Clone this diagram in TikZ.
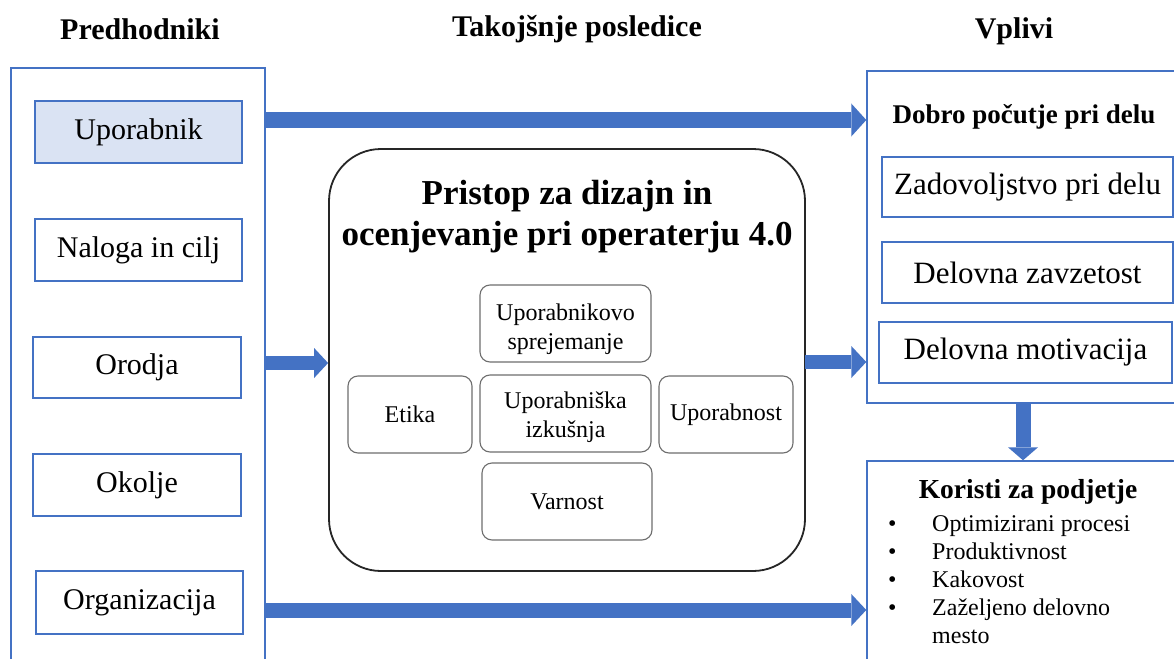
\documentclass[tikz,border=0pt]{standalone}
\usepackage{fontspec}
\setmainfont{Liberation Serif}
\usetikzlibrary{arrows.meta}
\definecolor{frameblue}{HTML}{4472C4}
\definecolor{paleblue}{HTML}{DAE3F3}
\definecolor{softgray}{HTML}{6E6E6E}
\newcommand{\fs}[1]{\fontsize{#1}{#1}\selectfont}
% two centred lines, set a little lower than the box centre
\newcommand{\twolines}[3]{\raisebox{-#1}[\height][\depth]{\begin{tabular}{@{}c@{}}#2\\#3\end{tabular}}}
\tikzset{
  x=1pt, y=-1pt,
  panel/.style={draw=frameblue, line width=1.4pt, inner sep=0pt},
  itembox/.style={draw=frameblue, line width=1.4pt, inner sep=0pt, font=\fs{30}},
  rightbox/.style={itembox, font=\fs{31}},
  softbox/.style={draw=softgray, line width=1.1pt, rounded corners=10pt, inner sep=0pt, align=center, font=\fontsize{24}{29}\selectfont},
  heading/.style={font=\bfseries\fs{30}},
  listitem/.style={anchor=base west, inner sep=0pt, font=\fs{24}},
  blockarrow/.style={draw=frameblue, line width=#1, -{Triangle[length=15pt, width=33pt, line width=0pt]}},
}
\begin{document}
\begin{tikzpicture}
\clip (0,0) rectangle (1174,658);
\fill[white] (0,0) rectangle (1174,658);

% column headings
\node[heading] (h1) at (140,29) {Predhodniki};
\node[heading] (h2) at (577,29) {Takojšnje posledice};
\node[heading] (h3) at (1014,31) {Vplivi};

% antecedents column
\node[panel, minimum width=254pt, minimum height=602pt] (left) at (138,369) {};
\node[itembox, fill=paleblue, minimum width=207pt, minimum height=62pt] (upor) at (138.5,132) {Uporabnik};
\node[itembox, minimum width=207pt, minimum height=62pt] (naloga) at (138.5,250) {Naloga in cilj};
\node[itembox, minimum width=208pt, minimum height=61pt] (orodja) at (137,367.5) {Orodja};
\node[itembox, minimum width=208pt, minimum height=62pt] (okolje) at (137,485) {Okolje};
\node[itembox, minimum width=207pt, minimum height=63pt] (organ) at (139.5,602.5) {Organizacija};

% central approach
\node[draw=black!85, line width=1.8pt, rounded corners=52pt, minimum width=476pt, minimum height=422pt] (core) at (567,360) {};
\node[font=\bfseries\fontsize{35}{41}\selectfont, align=center, inner sep=0pt] (title) at (567,217) {Pristop za dizajn in\\ocenjevanje pri operaterju 4.0};
\node[softbox, minimum width=171pt, minimum height=77pt] (sprej) at (565.5,323.5) {\twolines{6pt}{Uporabnikovo}{sprejemanje}};
\node[softbox, minimum width=124pt, minimum height=77pt] (etika) at (410,414.5) {Etika};
\node[softbox, minimum width=171pt, minimum height=77pt] (izk) at (565.5,413.5) {\twolines{4pt}{Uporabniška}{izkušnja}};
\node[softbox, minimum width=134pt, minimum height=77pt] (upnost) at (726,414.5) {Uporabnost};
\node[softbox, minimum width=170pt, minimum height=77pt] (varnost) at (567,501.5) {Varnost};

% outcomes: well-being
\node[panel, minimum width=323pt, minimum height=332pt] (rtop) at (1028.5,237) {};
\node[font=\bfseries\fs{27}, inner sep=0pt] (dobro) at (1024,117) {Dobro počutje pri delu};
\node[rightbox, minimum width=291pt, minimum height=60pt] (zad) at (1027.5,187) {Zadovoljstvo pri delu};
\node[rightbox, minimum width=291pt, minimum height=61pt] (zav) at (1027.5,272.5) {Delovna zavzetost};
\node[rightbox, minimum width=293pt, minimum height=61pt] (mot) at (1025.5,352.5) {Delovna motivacija};

% outcomes: company benefits
\node[panel, minimum width=323pt, minimum height=230pt] (rbot) at (1028.5,576) {};
\node[font=\bfseries\fs{27.5}, inner sep=0pt] (koristi) at (1028,492) {Koristi za podjetje};
\foreach \t/\yy [count=\i] in {Optimizirani procesi/531, Produktivnost/559, Kakovost/587, Zaželjeno delovno/615} {
  \node[listitem] (b\i) at (888,\yy) {\textbullet};
  \node[listitem] (li\i) at (932,\yy) {\t};
}
\node[listitem] (li5) at (932,643) {mesto};

% connecting block arrows
\coordinate (a1) at (265,120);
\coordinate (a2) at (265,363);
\coordinate (a3) at (805,362);
\coordinate (a4) at (265,610);
\coordinate (a5) at (1023,403);
\draw[blockarrow=16pt] (a1) -- (a1 -| rtop.west);
\draw[blockarrow=14pt, -{Triangle[length=14pt, width=30pt, line width=0pt]}] (a2) -- (a2 -| core.west);
\draw[blockarrow=14pt, -{Triangle[length=15pt, width=32pt, line width=0pt]}] (a3) -- (a3 -| rtop.west);
\draw[blockarrow=15pt, -{Triangle[length=15pt, width=32pt, line width=0pt]}] (a4) -- (a4 -| rbot.west);
\draw[blockarrow=15pt, -{Triangle[length=13pt, width=30pt, line width=0pt]}] (a5) -- (a5 |- rbot.north);
\end{tikzpicture}
\end{document}
